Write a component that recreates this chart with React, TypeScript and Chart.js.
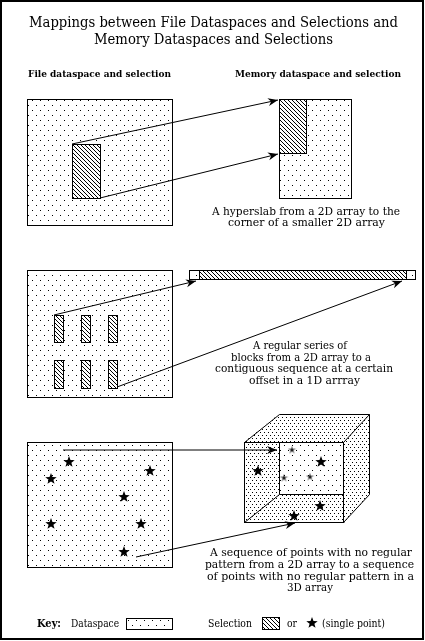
import { useEffect, useRef } from 'react';
import { Chart, registerables } from 'chart.js';

Chart.register(...registerables);

const W = 425;
const H = 641;

// texts
const titleLines = [
  'Mappings between File Dataspaces and Selections and',
  'Memory Dataspaces and Selections',
];
const headers = ['File dataspace and selection', 'Memory dataspace and selection'];
const caption1 = ['A hyperslab from a 2D array to the', 'corner of a smaller 2D array'];
const caption2 = [
  'A regular series of',
  'blocks from a 2D array to a',
  'contiguous sequence at a certain',
  'offset in a 1D arrray',
];
const caption3 = [
  'A sequence of points with no regular',
  'pattern from a 2D array to a sequence',
  'of points with no regular pattern in a',
  '3D array',
];
const keyLabels = ['Key:', 'Dataspace', 'Selection', 'or', '(single point)'];

// boxes [x0, y0, x1, y1] in picture units
const dataspaces = [
  [27, 99, 172, 225],
  [279, 99, 351, 198],
  [27, 270, 172, 397],
  [189, 270, 415, 279],
  [27, 442, 172, 567],
];
const selections = [
  [72, 144, 100, 198],
  [279, 99, 306, 153],
  [199, 270, 406, 279],
  [54, 315, 63, 342],
  [81, 315, 90, 342],
  [108, 315, 117, 342],
  [54, 360, 63, 388],
  [81, 360, 90, 388],
  [108, 360, 117, 388],
];
const cubeBack = [279, 414, 369, 494];
const cubeFront = [244, 442, 343, 522];
const keyDataspace = [126, 618, 172, 629];
const keySelection = [262, 617, 279, 629];

// single points
const fileStars = [
  { x: 69, y: 462 },
  { x: 150, y: 471 },
  { x: 51, y: 479 },
  { x: 124, y: 497 },
  { x: 51, y: 524 },
  { x: 141, y: 524 },
  { x: 124, y: 552 },
];
const memoryStars = [
  { x: 258, y: 471 },
  { x: 321, y: 462 },
  { x: 320, y: 506 },
  { x: 294, y: 516 },
];
const memorySmallStars = [
  { x: 292, y: 450 },
  { x: 284, y: 478 },
  { x: 310, y: 477 },
];
const keyStars = [{ x: 312, y: 623 }];

// arrows [fromX, fromY, toX, toY]
const arrows = [
  [72, 144, 278, 100],
  [100, 198, 278, 154],
  [54, 315, 196, 281],
  [117, 387, 402, 281],
  [63, 450, 277, 450],
  [136, 557, 295, 523],
];

// text layout [left, baseline, width]
const titleLayout = [[29, 27, 369], [94, 44, 239]];
const headerLayout = [[28, 77, 143], [235, 77, 166]];
const caption1Layout = [[212, 215, 188], [228, 226, 157]];
const caption2Layout = [[253, 349, 94], [231, 361, 140], [215, 372, 178], [249, 384, 111]];
const caption3Layout = [[210, 556, 202], [205, 568, 209], [207, 580, 207], [287, 591, 46]];
const keyLayout = [[37, 627, 24], [71, 627, 48], [208, 627, 44], [287, 627, 10], [322, 627, 63]];

const SERIF = '"DejaVu Serif", "Liberation Serif", serif';

function makeStar(size: number, outer: number, inner: number) {
  const c = document.createElement('canvas');
  c.width = size;
  c.height = size;
  const g = c.getContext('2d')!;
  g.fillStyle = '#000';
  g.beginPath();
  for (let i = 0; i < 10; i++) {
    const r = i % 2 === 0 ? outer : inner;
    const a = -Math.PI / 2 + (i * Math.PI) / 5;
    const px = size / 2 + r * Math.cos(a);
    const py = size / 2 + r * Math.sin(a);
    if (i === 0) g.moveTo(px, py);
    else g.lineTo(px, py);
  }
  g.closePath();
  g.fill();
  return c;
}

function makeTile(w: number, h: number, dots: number[][]) {
  const c = document.createElement('canvas');
  c.width = w;
  c.height = h;
  const g = c.getContext('2d')!;
  g.fillStyle = '#000';
  dots.forEach(([dx, dy]) => g.fillRect(dx, dy, 1, 1));
  return c;
}

function fitText(ctx: CanvasRenderingContext2D, text: string, left: number, base: number, width: number, font: string) {
  ctx.save();
  ctx.font = font;
  ctx.fillStyle = '#000';
  ctx.textBaseline = 'alphabetic';
  ctx.textAlign = 'left';
  const w = ctx.measureText(text).width;
  ctx.translate(left, base);
  ctx.scale(width / w, 1);
  ctx.fillText(text, 0, 0);
  ctx.restore();
}

const diagramPlugin = {
  id: 'diagram',
  beforeDatasetsDraw(chart: any) {
    const { ctx, scales } = chart;
    const px = (v: number) => Math.round(scales.x.getPixelForValue(v));
    const py = (v: number) => Math.round(scales.y.getPixelForValue(v));

    const dots = ctx.createPattern(makeTile(8, 10, [[0, 0], [4, 5]]), 'repeat');
    const dense = ctx.createPattern(makeTile(4, 6, [[0, 0], [2, 3]]), 'repeat');
    const hatch = ctx.createPattern(makeTile(4, 4, [[0, 0], [1, 1], [2, 2], [3, 3]]), 'repeat');

    ctx.save();
    ctx.fillStyle = '#fff';
    ctx.fillRect(0, 0, chart.width, chart.height);
    ctx.strokeStyle = '#000';
    ctx.lineWidth = 2;
    ctx.strokeRect(1, 1, chart.width - 3, chart.height - 3);
    ctx.lineWidth = 1;

    const box = (b: number[], fill: any) => {
      const x0 = px(b[0]), y0 = py(b[1]), x1 = px(b[2]), y1 = py(b[3]);
      ctx.fillStyle = '#fff';
      ctx.fillRect(x0, y0, x1 - x0, y1 - y0);
      ctx.fillStyle = fill;
      ctx.fillRect(x0, y0, x1 - x0, y1 - y0);
      ctx.strokeRect(x0 + 0.5, y0 + 0.5, x1 - x0, y1 - y0);
    };
    dataspaces.forEach((b) => box(b, dots));
    selections.forEach((b) => box(b, hatch));
    box(keyDataspace, dots);
    box(keySelection, hatch);

    // cube
    const bx0 = px(cubeBack[0]), by0 = py(cubeBack[1]), bx1 = px(cubeBack[2]), by1 = py(cubeBack[3]);
    const fx0 = px(cubeFront[0]), fy0 = py(cubeFront[1]), fx1 = px(cubeFront[2]), fy1 = py(cubeFront[3]);
    ctx.beginPath();
    ctx.moveTo(fx0, fy0);
    ctx.lineTo(bx0, by0);
    ctx.lineTo(bx1 + 1, by0);
    ctx.lineTo(bx1 + 1, by1);
    ctx.lineTo(fx1 + 1, fy1 + 1);
    ctx.lineTo(fx0, fy1 + 1);
    ctx.closePath();
    ctx.fillStyle = '#fff';
    ctx.fill();
    ctx.fillStyle = dense;
    ctx.fill();
    ctx.fillStyle = '#fff';
    ctx.fillRect(bx0, fy0, fx1 - bx0, by1 - fy0);
    ctx.fillStyle = dots;
    ctx.fillRect(bx0, fy0, fx1 - bx0, by1 - fy0);

    const seg = (a: number, b: number, c: number, d: number) => {
      ctx.beginPath();
      ctx.moveTo(a + 0.5, b + 0.5);
      ctx.lineTo(c + 0.5, d + 0.5);
      ctx.stroke();
    };
    ctx.strokeRect(fx0 + 0.5, fy0 + 0.5, fx1 - fx0, fy1 - fy0);
    seg(fx0, fy0, bx0, by0);
    seg(bx0, by0, bx1, by0);
    seg(bx1, by0, bx1, by1);
    seg(fx1, fy0, bx1, by0);
    seg(fx1, fy1, bx1, by1);
    seg(fx0, fy1, bx0, by1);
    seg(bx0, fy0, bx0, by1);
    seg(bx0, by1, fx1, by1);
    ctx.restore();

    // texts
    const place = (lines: string[], layout: number[][], font: string) =>
      lines.forEach((t, i) => {
        const [l, b, w] = layout[i];
        fitText(ctx, t, px(l), py(b), w, font);
      });
    place(titleLines, titleLayout, `14px ${SERIF}`);
    place(headers, headerLayout, `bold 10px ${SERIF}`);
    place(caption1, caption1Layout, `11px ${SERIF}`);
    place(caption2, caption2Layout, `11px ${SERIF}`);
    place(caption3, caption3Layout, `11px ${SERIF}`);
    place(keyLabels.slice(0, 1), keyLayout.slice(0, 1), `bold 11px ${SERIF}`);
    place(keyLabels.slice(1), keyLayout.slice(1), `11px ${SERIF}`);
  },
  afterDatasetsDraw(chart: any) {
    const { ctx, scales } = chart;
    ctx.save();
    ctx.fillStyle = '#000';
    arrows.forEach(([x0, y0, x1, y1]) => {
      const ax = scales.x.getPixelForValue(x0), ay = scales.y.getPixelForValue(y0);
      const bx = scales.x.getPixelForValue(x1), by = scales.y.getPixelForValue(y1);
      const ang = Math.atan2(by - ay, bx - ax);
      ctx.save();
      ctx.translate(bx, by);
      ctx.rotate(ang);
      ctx.beginPath();
      ctx.moveTo(0, 0);
      ctx.lineTo(-10, -4);
      ctx.lineTo(-7, 0);
      ctx.lineTo(-10, 4);
      ctx.closePath();
      ctx.fill();
      ctx.restore();
    });
    ctx.restore();
  },
};

export default function App() {
  const canvasRef = useRef<HTMLCanvasElement>(null);
  const chartRef = useRef<Chart | null>(null);

  useEffect(() => {
    if (!canvasRef.current) return;
    if (chartRef.current) chartRef.current.destroy();

    const bigStar = makeStar(12, 6, 2.5);
    const smallStar = makeStar(9, 4.2, 1.1);

    const arrowSets = arrows.map(([x0, y0, x1, y1]) => ({
      data: [{ x: x0, y: y0 }, { x: x1, y: y1 }],
      showLine: true,
      borderColor: '#000',
      borderWidth: 1,
      pointRadius: 0,
    }));
    const starSet = (data: { x: number; y: number }[], style: HTMLCanvasElement) => ({
      data,
      showLine: false,
      pointStyle: style,
      pointRadius: 5,
      borderWidth: 0,
    });

    chartRef.current = new Chart(canvasRef.current, {
      type: 'scatter',
      data: {
        datasets: [
          ...arrowSets,
          starSet(fileStars, bigStar),
          starSet(memoryStars, bigStar),
          starSet(memorySmallStars, smallStar),
          starSet(keyStars, bigStar),
        ] as any,
      },
      options: {
        animation: false,
        responsive: true,
        maintainAspectRatio: false,
        events: [],
        layout: { padding: 0, autoPadding: false },
        scales: {
          x: { type: 'linear', min: 0, max: W, display: false },
          y: { type: 'linear', min: 0, max: H, reverse: true, display: false },
        },
        plugins: {
          legend: { display: false },
          tooltip: { enabled: false },
        },
      },
      plugins: [diagramPlugin],
    });

    return () => {
      if (chartRef.current) {
        chartRef.current.destroy();
        chartRef.current = null;
      }
    };
  }, []);

  return (
    <div style={{ position: 'fixed', left: 0, top: 0, width: W, height: H, background: '#fff' }}>
      <canvas ref={canvasRef} />
    </div>
  );
}
